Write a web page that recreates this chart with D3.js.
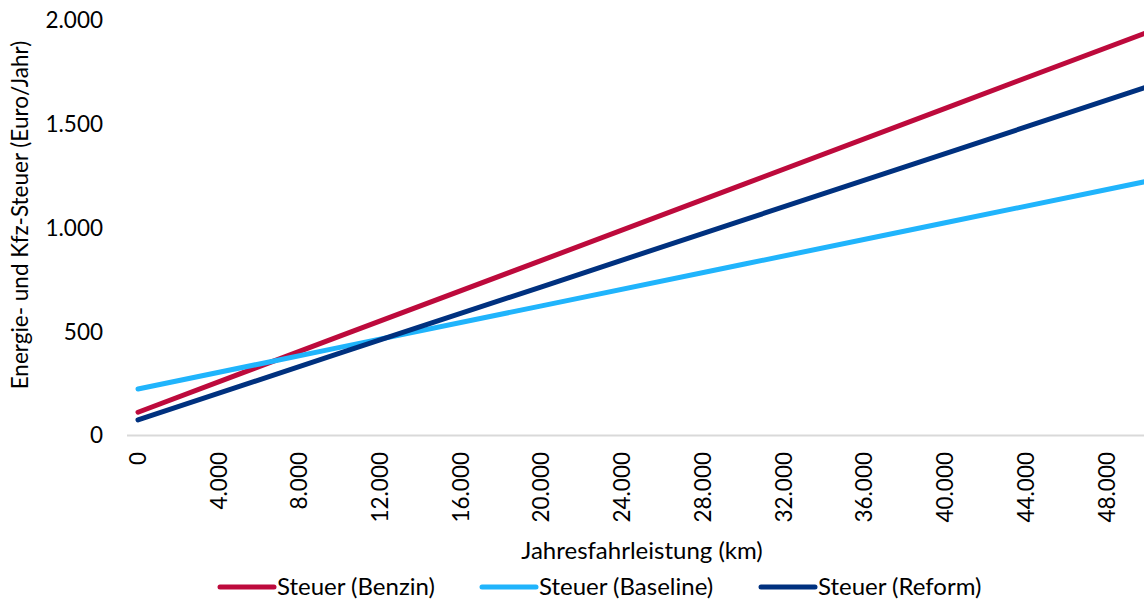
<!DOCTYPE html>
<html>
<head>
<meta charset="utf-8">
<script src="https://cdn.jsdelivr.net/npm/d3@7"></script>
<style>
  body { margin: 0; background: #fff; }
  svg text { font-family: Lato, "Noto Sans", sans-serif; fill: #000; }
</style>
</head>
<body>
<svg id="chart" width="1144" height="600"></svg>
<script>
// km per year
var kilometers = [0, 10000, 20000, 30000, 40000, 50000];
// tax per year (Euro)
var benzin   = [112, 478, 843, 1209, 1575, 1940];
var baseline = [224, 424, 624, 824, 1024, 1224];
var reform   = [75, 396, 716, 1037, 1357, 1678];

var xTicks = [0, 4000, 8000, 12000, 16000, 20000, 24000, 28000, 32000, 36000, 40000, 44000, 48000];
var yTicks = [0, 500, 1000, 1500, 2000];

var seriesNames = ["Steuer (Benzin)", "Steuer (Baseline)", "Steuer (Reform)"];
var seriesColors = ["#bd0a3c", "#20b4fc", "#00317f"];

var fmt = d3.formatLocale({decimal: ",", thousands: ".", grouping: [3], currency: ["", "€"]}).format(",d");

var svg = d3.select("#chart");

var x = d3.scaleLinear().domain([0, 50000]).range([138, 1147]);
var y = d3.scaleLinear().domain([0, 2000]).range([435.5, 20]);

// x axis line
svg.append("line")
  .attr("x1", 127).attr("x2", 1144)
  .attr("y1", y(0)).attr("y2", y(0))
  .attr("stroke", "#d9d9d9").attr("stroke-width", 2);

// y tick labels
svg.selectAll("text.ytick")
  .data(yTicks)
  .enter().append("text")
  .attr("class", "ytick")
  .attr("x", 103)
  .attr("y", function(d){ return y(d); })
  .attr("dy", "0.35em")
  .attr("text-anchor", "end")
  .style("font-size", "22.5px")
  .text(function(d){ return fmt(d); });

// x tick labels (rotated)
svg.selectAll("text.xtick")
  .data(xTicks)
  .enter().append("text")
  .attr("class", "xtick")
  .attr("transform", function(d){ return "translate(" + x(d) + ",452) rotate(-90)"; })
  .attr("dy", "0.35em")
  .attr("text-anchor", "end")
  .style("font-size", "22.5px")
  .text(function(d){ return fmt(d); });

// axis titles
svg.append("text")
  .attr("transform", "translate(20,215) rotate(-90)")
  .attr("dy", "0.35em")
  .attr("text-anchor", "middle")
  .style("font-size", "22.5px")
  .text("Energie- und Kfz-Steuer (Euro/Jahr)");

svg.append("text")
  .attr("x", 642).attr("y", 551)
  .attr("dy", "0.35em")
  .attr("text-anchor", "middle")
  .style("font-size", "24px")
  .text("Jahresfahrleistung (km)");

// lines
var series = [benzin, baseline, reform];
var line = d3.line()
  .x(function(d, i){ return x(kilometers[i]); })
  .y(function(d){ return y(d); });

svg.append("defs").append("clipPath").attr("id", "plot")
  .append("rect").attr("x", 0).attr("y", 0).attr("width", 1144).attr("height", 600);

svg.selectAll("path.series")
  .data(series)
  .enter().append("path")
  .attr("class", "series")
  .attr("clip-path", "url(#plot)")
  .attr("d", line)
  .attr("fill", "none")
  .attr("stroke", function(d, i){ return seriesColors[i]; })
  .attr("stroke-width", 5)
  .attr("stroke-linecap", "round");

// legend
var legendX = [220, 482, 761];
var lg = svg.selectAll("g.legend")
  .data(seriesNames)
  .enter().append("g")
  .attr("class", "legend")
  .attr("transform", function(d, i){ return "translate(" + legendX[i] + ",587)"; });

lg.append("line")
  .attr("x1", 0).attr("x2", 54)
  .attr("stroke", function(d, i){ return seriesColors[i]; })
  .attr("stroke-width", 5)
  .attr("stroke-linecap", "round");

lg.append("text")
  .attr("x", 57)
  .attr("dy", "0.35em")
  .style("font-size", "24px")
  .text(function(d){ return d; });
</script>
</body>
</html>
